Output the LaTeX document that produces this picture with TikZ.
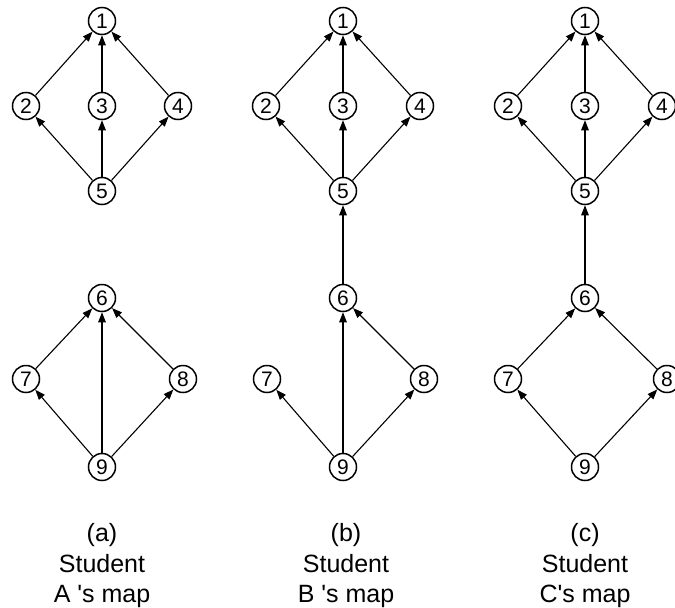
\documentclass[tikz,border=0pt]{standalone}
\usepackage{fontspec}
\newfontfamily\arialf{Liberation Sans}
\usetikzlibrary{arrows.meta}
\begin{document}
\begin{tikzpicture}[x=1pt,y=-1pt,
  vnode/.style={draw,circle,line width=1.5pt,minimum size=27pt,inner sep=0pt,font=\arialf\fontsize{21}{21}\selectfont},
  conn/.style={line width=1.1pt,-{Triangle[length=10pt,width=7.5pt]}},
  captext/.style={anchor=base,inner sep=0pt,font=\arialf\fontsize{25}{25}\selectfont}]
\useasboundingbox (0,0) rectangle (675,608);
% ---------- (a)
\node[vnode] (a1) at (102,21) {1};
\node[vnode] (a2) at (26,106) {2};
\node[vnode] (a3) at (102,106) {3};
\node[vnode] (a4) at (178,106) {4};
\node[vnode] (a5) at (102,191) {5};
\node[vnode] (a6) at (102,298) {6};
\node[vnode] (a7) at (26,379) {7};
\node[vnode] (a8) at (183,379) {8};
\node[vnode] (a9) at (102,467) {9};
\draw[conn] (a2) -- (a1);
\draw[conn] (a3) -- (a1);
\draw[conn] (a4) -- (a1);
\draw[conn] (a5) -- (a2);
\draw[conn] (a5) -- (a3);
\draw[conn] (a5) -- (a4);
\draw[conn] (a7) -- (a6);
\draw[conn] (a8) -- (a6);
\draw[conn] (a9) -- (a6);
\draw[conn] (a9) -- (a7);
\draw[conn] (a9) -- (a8);
% ---------- (b)
\node[vnode] (b1) at (343,21) {1};
\node[vnode] (b2) at (266,106) {2};
\node[vnode] (b3) at (343,106) {3};
\node[vnode] (b4) at (420,106) {4};
\node[vnode] (b5) at (343,191) {5};
\node[vnode] (b6) at (343,298) {6};
\node[vnode] (b7) at (267,379) {7};
\node[vnode] (b8) at (424,379) {8};
\node[vnode] (b9) at (343,467) {9};
\draw[conn] (b2) -- (b1);
\draw[conn] (b3) -- (b1);
\draw[conn] (b4) -- (b1);
\draw[conn] (b5) -- (b2);
\draw[conn] (b5) -- (b3);
\draw[conn] (b5) -- (b4);
\draw[conn] (b6) -- (b5);
\draw[conn] (b8) -- (b6);
\draw[conn] (b9) -- (b6);
\draw[conn] (b9) -- (b7);
\draw[conn] (b9) -- (b8);
% ---------- (c)
\node[vnode] (c1) at (585,21) {1};
\node[vnode] (c2) at (508,106) {2};
\node[vnode] (c3) at (585,106) {3};
\node[vnode] (c4) at (662,106) {4};
\node[vnode] (c5) at (585,191) {5};
\node[vnode] (c6) at (585,298) {6};
\node[vnode] (c7) at (508,379) {7};
\node[vnode] (c8) at (667,379) {8};
\node[vnode] (c9) at (585,467) {9};
\draw[conn] (c2) -- (c1);
\draw[conn] (c3) -- (c1);
\draw[conn] (c4) -- (c1);
\draw[conn] (c5) -- (c2);
\draw[conn] (c5) -- (c3);
\draw[conn] (c5) -- (c4);
\draw[conn] (c6) -- (c5);
\draw[conn] (c7) -- (c6);
\draw[conn] (c8) -- (c6);
\draw[conn] (c9) -- (c7);
\draw[conn] (c9) -- (c8);
% ---------- captions
\node[captext] (la1) at (102,541) {(a)};
\node[captext] (la2) at (102,572) {Student};
\node[captext] (la3) at (102,602) {A 's map};
\node[captext] (lb1) at (346,541) {(b)};
\node[captext] (lb2) at (346,572) {Student};
\node[captext] (lb3) at (346,602) {B 's map};
\node[captext] (lc1) at (585,541) {(c)};
\node[captext] (lc2) at (585,572) {Student};
\node[captext] (lc3) at (585,602) {C's map};
\end{tikzpicture}
\end{document}
